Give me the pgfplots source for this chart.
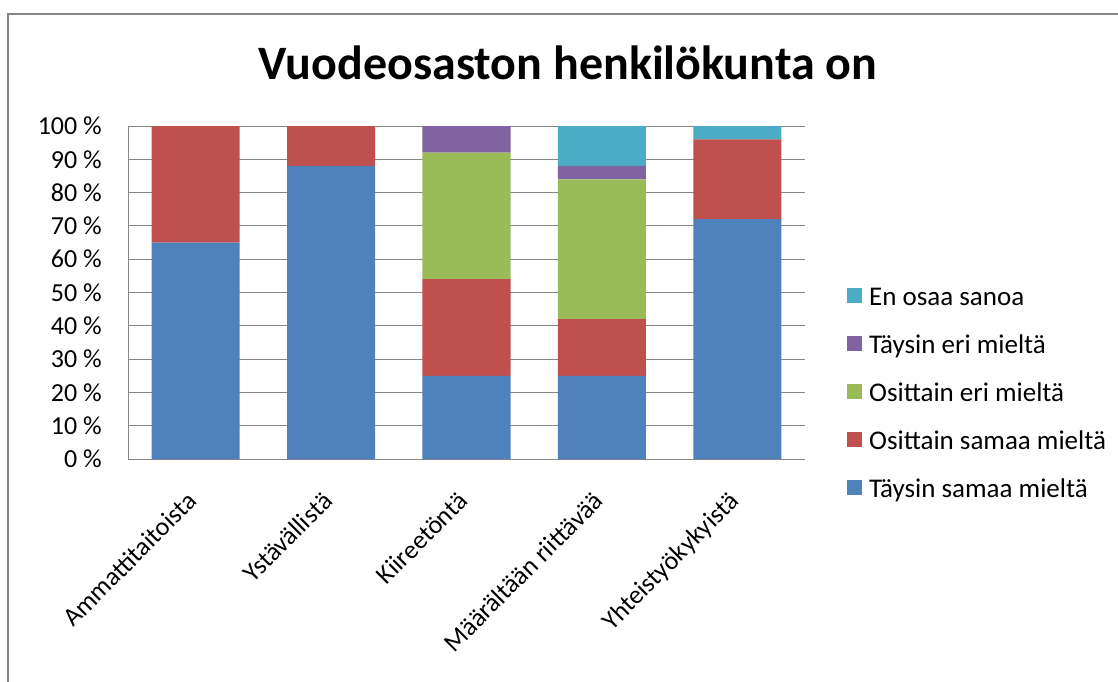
\documentclass[border=0pt]{standalone}
\usepackage{fontspec}
\setmainfont{Carlito}
\usepackage{pgfplots}
\pgfplotsset{compat=1.18}
\definecolor{cBlue}{HTML}{4F81BD}
\definecolor{cRed}{HTML}{C0504D}
\definecolor{cGreen}{HTML}{9BBB59}
\definecolor{cPurple}{HTML}{8064A2}
\definecolor{cAqua}{HTML}{4BACC6}
\definecolor{gridc}{HTML}{868686}
\pgfplotsset{sq/.style={legend image code/.code={\fill[##1] (0pt,-3pt) rectangle (15pt,12pt);}}}
\begin{document}
\begin{tikzpicture}[font=\fontsize{26}{31}\selectfont]
\useasboundingbox (0pt,0pt) rectangle (1118pt,681pt);
\fill[white] (0pt,0pt) rectangle (1118pt,681pt);
\draw[gridc, line width=2pt] (8pt,-5pt) -- (8pt,667pt) -- (1125pt,667pt);
\node[font=\bfseries\fontsize{48}{58}\selectfont, anchor=base] at (568pt,601pt) {Vuodeosaston henkilökunta on};
\begin{axis}[
  at={(128pt,222pt)}, anchor=south west, scale only axis,
  width=677pt, height=333pt,
  ybar stacked, bar width=0.65,
  xmin=-0.5, xmax=4.5, ymin=0, ymax=100, enlargelimits=false,
  xtick={0,...,4},
  xticklabels={Ammattitaitoista, Ystävällistä, Kiireetöntä, Määrältään riittävää, Yhteistyökykyistä},
  xticklabel style={yshift=-31pt, xshift=-10pt, rotate=45, anchor=north east, inner sep=0pt},
  ytick={0,10,...,100},
  yticklabel={\pgfmathprintnumber{\tick}~\%},
  yticklabel style={inner sep=0pt, anchor=east, xshift=-26pt},
  /pgf/number format/assume math mode=true,
  ymajorgrids, grid style={gridc, line width=1pt},
  axis x line*=bottom, axis y line*=left,
  axis line style={-, gridc, line width=1pt},
  major tick length=0pt,
  tick label style={font=\fontsize{26}{31}\selectfont},
  reverse legend,
  legend cell align=left,
  legend style={draw=none, fill=none, at={(axis description cs:1.062,0.1895)}, anchor=west,
    inner sep=0pt, row sep=24pt,
    nodes={inner sep=0pt, text height=18pt, text depth=6pt, font=\fontsize{27}{32}\selectfont},
    /tikz/every odd column/.append style={column sep=7pt}},
]
\addplot[fill=cBlue, draw=none, sq] coordinates {(0,65) (1,88) (2,25) (3,25) (4,72)};
\addplot[fill=cRed, draw=none, sq] coordinates {(0,35) (1,12) (2,29) (3,17) (4,24)};
\addplot[fill=cGreen, draw=none, sq] coordinates {(0,0) (1,0) (2,38) (3,42) (4,0)};
\addplot[fill=cPurple, draw=none, sq] coordinates {(0,0) (1,0) (2,8) (3,4) (4,0)};
\addplot[fill=cAqua, draw=none, sq] coordinates {(0,0) (1,0) (2,0) (3,12) (4,4)};
\legend{Täysin samaa mieltä, Osittain samaa mieltä, Osittain eri mieltä, Täysin eri mieltä, En osaa sanoa}
\end{axis}
\end{tikzpicture}
\end{document}
